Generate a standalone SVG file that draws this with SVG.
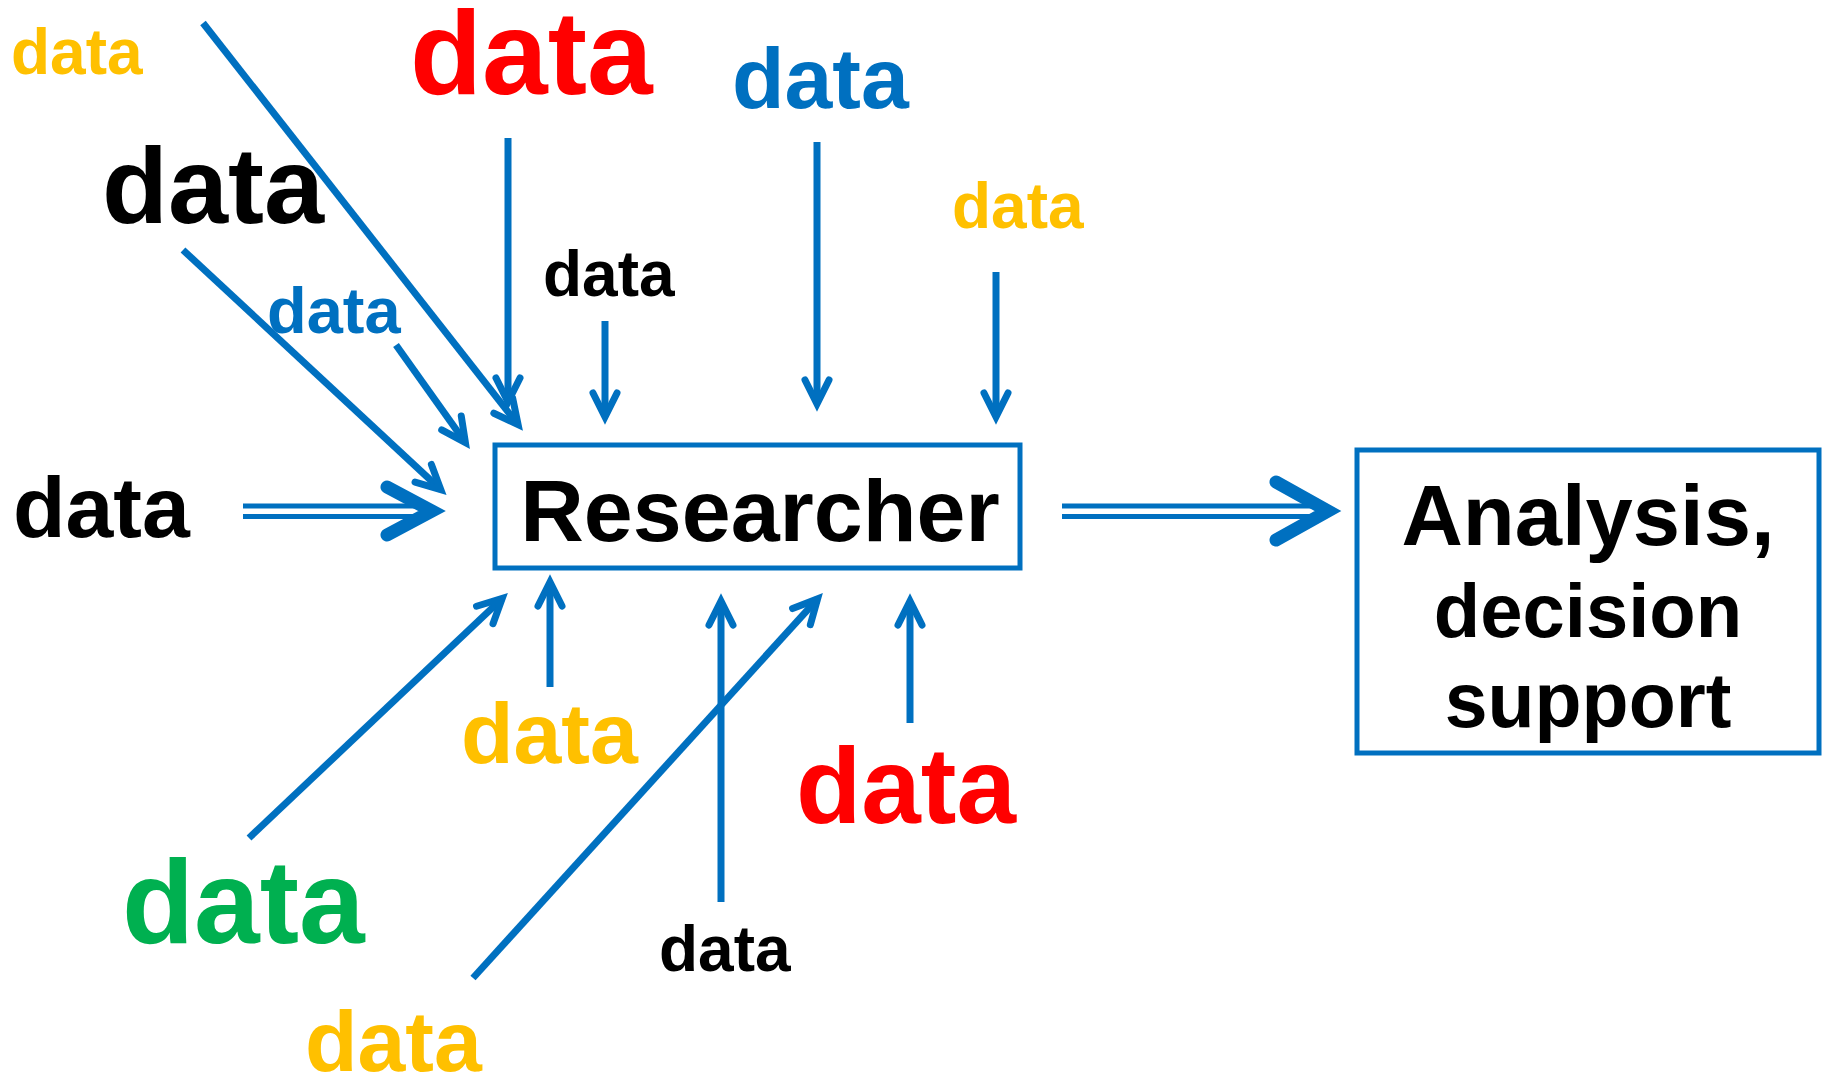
<svg xmlns="http://www.w3.org/2000/svg" width="1823" height="1083" viewBox="0 0 1823 1083">
<style>
  text { font-family: "Liberation Sans", Arial, sans-serif; font-weight: bold; }
  .box { fill: #FFFFFF; stroke: #0070C0; stroke-width: 5; }
  .conn { fill: none; stroke: #0070C0; stroke-width: 7; marker-end: url(#ah); }
  .dbl { fill: none; stroke: #0070C0; stroke-width: 5; }
  .chev { fill: none; stroke: #0070C0; stroke-width: 13; stroke-linecap: round; stroke-linejoin: miter; stroke-miterlimit: 10; }
  .yel { fill: #FFC000; } .red { fill: #FF0000; } .blu { fill: #0070C0; } .blk { fill: #000000; } .grn { fill: #00B050; }
</style>
<defs>
  <marker id="ah" markerUnits="userSpaceOnUse" orient="auto" refX="0" refY="0" markerWidth="60" markerHeight="60" viewBox="-40 -30 60 60" overflow="visible">
    <path d="M-24,-12 L0,0 L-24,12" fill="none" stroke="#0070C0" stroke-width="7" stroke-linecap="round" stroke-linejoin="miter" stroke-miterlimit="10"/>
  </marker>
</defs>
<rect width="1823" height="1083" fill="#FFFFFF"/>

<g id="connectors">
  <line class="conn" x1="203" y1="23" x2="518.1" y2="424.7"/>
  <line class="conn" x1="508" y1="138" x2="508" y2="402"/>
  <line class="conn" x1="183" y1="250" x2="440.8" y2="489.6"/>
  <line class="conn" x1="396" y1="345" x2="465.4" y2="442.5"/>
  <line class="conn" x1="605" y1="321" x2="605" y2="417"/>
  <line class="conn" x1="817" y1="142" x2="817" y2="404"/>
  <line class="conn" x1="996" y1="272" x2="996" y2="417"/>
  <line class="conn" x1="550" y1="687" x2="550" y2="582"/>
  <line class="conn" x1="249" y1="838" x2="502.2" y2="598.5"/>
  <line class="conn" x1="473" y1="978" x2="817.6" y2="598.9"/>
  <line class="conn" x1="721" y1="902" x2="721" y2="601"/>
  <line class="conn" x1="910" y1="723" x2="910" y2="601"/>
  <g id="double-arrow-left">
    <line class="dbl" x1="243" y1="506" x2="420" y2="506"/>
    <line class="dbl" x1="243" y1="516.5" x2="420" y2="516.5"/>
    <polyline class="chev" points="387,487 432,511 387,535"/>
  </g>
  <g id="double-arrow-right">
    <line class="dbl" x1="1062" y1="506" x2="1312" y2="506"/>
    <line class="dbl" x1="1062" y1="516.5" x2="1312" y2="516.5"/>
    <polyline class="chev" points="1276,482 1328,511 1276,540"/>
  </g>
</g>

<g id="researcher">
  <rect class="box" x="495" y="445" width="525" height="123"/>
  <text x="760" y="541" font-size="88" text-anchor="middle" class="blk">Researcher</text>
</g>
<g id="analysis">
  <rect class="box" x="1357" y="450" width="462" height="303"/>
  <text x="1588" y="545" font-size="85" text-anchor="middle" class="blk">Analysis,</text>
  <text x="1588" y="637" font-size="76" text-anchor="middle" class="blk">decision</text>
  <text x="1588" y="727" font-size="77" text-anchor="middle" class="blk">support</text>
</g>

<g id="data-yellow-topleft"><text x="11" y="74" font-size="64" class="yel">data</text></g>
<g id="data-red-top"><text x="410" y="94" font-size="118" class="red">data</text></g>
<g id="data-black-big"><text x="102" y="223" font-size="108" class="blk">data</text></g>
<g id="data-blue-small"><text x="267" y="333" font-size="65" class="blu">data</text></g>
<g id="data-black-small-top"><text x="543" y="296" font-size="64" class="blk">data</text></g>
<g id="data-blue-big"><text x="732" y="108" font-size="86" class="blu">data</text></g>
<g id="data-yellow-right"><text x="952" y="228" font-size="64" class="yel">data</text></g>
<g id="data-black-left"><text x="13" y="537" font-size="86" class="blk">data</text></g>
<g id="data-yellow-mid"><text x="461" y="763" font-size="86" class="yel">data</text></g>
<g id="data-green"><text x="122" y="943" font-size="118" class="grn">data</text></g>
<g id="data-yellow-bottom"><text x="305" y="1071" font-size="86" class="yel">data</text></g>
<g id="data-black-small-bottom"><text x="659" y="971" font-size="64" class="blk">data</text></g>
<g id="data-red-bottom"><text x="796" y="823" font-size="107" class="red">data</text></g>
</svg>
